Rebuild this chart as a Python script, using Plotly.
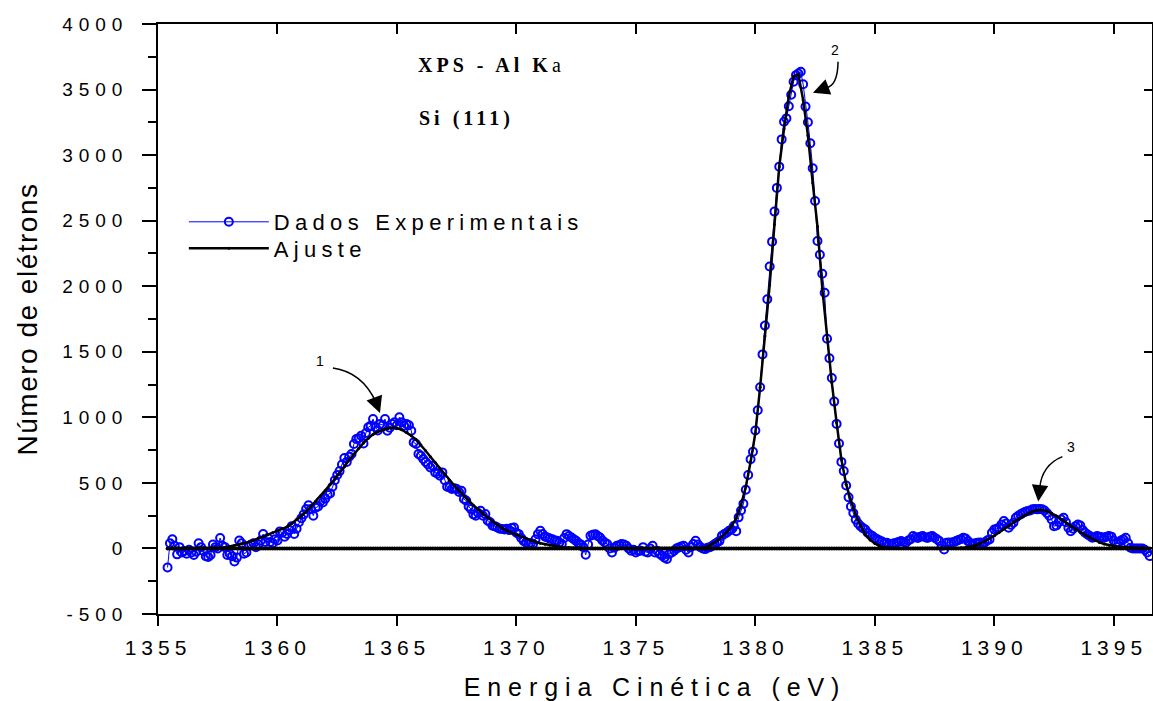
import plotly.graph_objects as go

# ---------------- data ----------------
E_START = 1355.4          # first experimental point (eV)
E_STEP = 0.1              # experimental step (eV)
FIT_STEP = 0.2            # step of the sampled fitted curve (eV)

counts = [
    -145, 40, 70, 20, -45, 10,                                   # 1355.4-1355.9
    -30, -20, -40, -10, -30, -50, -25, 40, 10, -20,              # 1356
    -60, -65, -50, 30, 10, 0, 80, 20, 10, -50,                   # 1357
    -40, -60, -100, -70, 60, 40, -40, -30, 20, 30,               # 1358
    40, 10, 30, 60, 110, 50, 80, 50, 40, 70,                     # 1359
    60, 130, 120, 90, 110, 140, 170, 110, 150, 200,              # 1360
    230, 260, 300, 330, 300, 250, 310, 320, 360, 350,            # 1361
    380, 410, 420, 470, 520, 560, 590, 640, 690, 660,            # 1362
    700, 720, 796, 835, 840, 860, 800, 880, 924, 936,            # 1363
    987, 924, 900, 949, 940, 987, 898, 920, 949, 962,            # 1364
    940, 1000, 962, 936, 949, 940, 898, 809, 796, 720,           # 1365
    707, 682, 660, 640, 618, 631, 580, 570, 555, 580,            # 1366
    520, 470, 466, 453, 460, 453, 430, 440, 377, 364,            # 1367
    320, 300, 260, 249, 270, 288, 250, 262, 211, 200,            # 1368
    173, 170, 160, 150, 148, 145, 150, 140, 155, 160,            # 1369
    120, 109, 80, 58, 45, 33, 40, 35, 70, 109,                   # 1370
    135, 110, 90, 84, 75, 71, 60, 58, 45, 33,                    # 1371
    80, 109, 95, 84, 70, 58, 40, 30, 10, -48,                    # 1372
    30, 97, 105, 109, 95, 84, 60, 45, 33, 0,                     # 1373
    -31, 5, 20, 25, 33, 30, 20, 0, -18, -10,                     # 1374
    -31, -20, -18, 10, -25, -31, 0, 20, -31, -20,                # 1375
    -43, -56, -70, -81, -40, -30, -18, 0, 8, 15,                 # 1376
    20, -10, -31, 10, 33, 58, 30, 10, 0, -5,                     # 1377
    5, 10, 20, 33, 45, 58, 97, 110, 120, 135,                    # 1378
    145, 171, 132, 237, 290, 340, 448, 560, 680, 738,            # 1379
    900, 1054, 1230, 1480, 1700, 1900, 2150, 2340, 2569, 2750,   # 1380
    2912, 3120, 3254, 3280, 3373, 3460, 3560, 3610, 3623, 3636,  # 1381
    3540, 3370, 3250, 3090, 2900, 2650, 2345, 2240, 2095, 1950,  # 1382
    1600, 1450, 1300, 1120, 950, 800, 660, 590, 480, 390,        # 1383
    320, 270, 220, 190, 170, 155, 145, 120, 105, 95,             # 1384
    80, 70, 60, 53, 40, 43, 35, 31, 40, 43,                      # 1385
    50, 56, 50, 43, 60, 70, 94, 85, 80, 90,                      # 1386
    94, 85, 80, 90, 94, 81, 70, 56, 20, -8,                      # 1387
    43, 45, 43, 50, 56, 65, 70, 81, 75, 56,                      # 1388
    40, 31, 40, 43, 45, 43, 45, 60, 69, 120,                     # 1389
    145, 150, 158, 183, 209, 190, 158, 180, 196, 234,            # 1390
    250, 260, 270, 280, 285, 290, 298, 300, 298, 300,            # 1391
    298, 290, 270, 250, 221, 170, 175, 200, 221, 234,            # 1392
    200, 158, 132, 150, 170, 183, 175, 140, 120, 107,            # 1393
    95, 81, 85, 94, 90, 85, 81, 90, 94, 90,                      # 1394
    60, 40, 43, 60, 69, 81, 40, 5, 0, 0,                         # 1395
    0, 0, 0, -10, -30, -58,                                      # 1396.0-1396.5
]

fit = [
    1, 1, 1,                          # 1355.4-1355.8
    1, 2, 2, 3, 3,                    # 1356
    3, 4, 4, 5, 8,                    # 1357
    15, 22, 30, 40, 50,               # 1358
    62, 75, 90, 105, 120,             # 1359
    135, 150, 165, 190, 220,          # 1360
    250, 280, 320, 360, 400,          # 1361
    440, 485, 530, 575, 625,          # 1362
    675, 720, 765, 805, 840,          # 1363
    870, 890, 905, 915, 920,          # 1364
    918, 905, 885, 860, 830,          # 1365
    790, 745, 700, 655, 610,          # 1366
    565, 520, 480, 440, 400,          # 1367
    365, 330, 295, 265, 235,          # 1368
    205, 180, 155, 135, 118,          # 1369
    105, 90, 75, 62, 50,              # 1370
    40, 32, 25, 18, 13,               # 1371
    9, 6, 4, 3, 2,                    # 1372
    2, 1, 1, 1, 1,                    # 1373
    1, 1, 1, 1, 1,                    # 1374
    1, 1, 1, 1, 1,                    # 1375
    1, 1, 2, 2, 2,                    # 1376
    2, 3, 3, 4, 6,                    # 1377
    15, 35, 58, 90, 125,              # 1378
    170, 230, 330, 470, 660,          # 1379
    880, 1230, 1620, 2010, 2470,      # 1380
    2912, 3200, 3450, 3600, 3615,     # 1381
    3420, 3150, 2790, 2455, 1985,     # 1382
    1600, 1265, 960, 680, 490,        # 1383
    362, 258, 175, 108, 65,           # 1384
    38, 18, 8, 4, 3,                  # 1385
    2, 2, 2, 2, 2,                    # 1386
    2, 2, 2, 2, 2,                    # 1387
    2, 2, 3, 5, 8,                    # 1388
    14, 24, 36, 55, 75,               # 1389
    97, 122, 148, 175, 198,           # 1390
    222, 245, 265, 282, 292,          # 1391
    294, 285, 268, 248, 222,          # 1392
    196, 170, 145, 125, 103,          # 1393
    82, 63, 46, 34, 25,               # 1394
    18, 13, 9, 6, 5,                  # 1395
    4, 3, 2,                          # 1396.0-1396.4
]

energy = [round(E_START + E_STEP * i, 1) for i in range(len(counts))]
fit_energy = [round(E_START + FIT_STEP * i, 1) for i in range(len(fit))]
baseline = [0 for _ in energy]

x_ticks = [1355, 1360, 1365, 1370, 1375, 1380, 1385, 1390, 1395]
y_ticks = [-500, 0, 500, 1000, 1500, 2000, 2500, 3000, 3500, 4000]
y_tick_labels = ["-500", "0", "500", "1000", "1500", "2000", "2500", "3000", "3500", "4000"]
X_RANGE = [1355, 1396.6]
Y_RANGE = [-500, 4000]

# peak labels: (label, label x, label y, curve start, curve control, curve end, arrow tip)
peak_labels = [
    ("1", 1361.86, 1430, (1362.32, 1377), (1363.54, 1346), (1364.12, 1117), (1364.29, 1033)),
    ("2", 1383.40, 3800, (1383.46, 3712), (1383.45, 3528), (1382.95, 3513), (1382.41, 3476)),
    ("3", 1393.30, 775, (1392.85, 700), (1391.99, 636), (1391.90, 460), (1391.84, 358)),
]

SANS = "Liberation Sans, Arial, sans-serif"
SERIF = "Liberation Serif, Times New Roman, serif"
BLUE = "#0000FF"

fig = go.Figure()

fig.add_trace(go.Scatter(
    x=energy, y=counts, name="Dados Experimentais", mode="lines+markers",
    line=dict(color=BLUE, width=1),
    marker=dict(symbol="circle-open", size=8, color=BLUE, line=dict(width=2, color=BLUE)),
    legend="legend",
))
fig.add_trace(go.Scatter(
    x=fit_energy, y=fit, name="Ajuste", mode="lines+markers",
    line=dict(color="black", width=2.5),
    marker=dict(symbol="circle", size=3, color="black"),
    legend="legend2",
))
fig.add_trace(go.Scatter(
    x=energy, y=baseline, name="linha de base", mode="lines+markers", showlegend=False,
    line=dict(color="black", width=2.5), marker=dict(symbol="circle", size=4, color="black"),
    xaxis="x2", yaxis="y2",
))

# curved arrows for peak labels
for lab, lx, ly, p0, pc, p1, tip in peak_labels:
    fig.add_shape(type="path", xref="x", yref="y",
                  path=f"M {p0[0]},{p0[1]} Q {pc[0]},{pc[1]} {p1[0]},{p1[1]}",
                  line=dict(color="black", width=1.5))
    fig.add_annotation(x=tip[0], y=tip[1], ax=p1[0], ay=p1[1], axref="x", ayref="y",
                       xref="x", yref="y", text="", showarrow=True,
                       arrowhead=2, arrowsize=2.2, arrowwidth=1.5, arrowcolor="black")
    fig.add_annotation(x=lx, y=ly, xref="x", yref="y", text=lab, showarrow=False,
                       font=dict(family=SANS, size=14, color="black"))

fig.add_annotation(x=1366.72, y=3687, xref="x", yref="y", xanchor="left", yanchor="middle",
                   text="<b>XPS - Al K</b>a", showarrow=False,
                   font=dict(family=SERIF, size=20, color="black"))
fig.add_annotation(x=1366.50, y=3283, xref="x", yref="y", xanchor="left", yanchor="middle",
                   text="<b>Si (111)</b>", showarrow=False,
                   font=dict(family=SERIF, size=20, color="black"))

axis_common = dict(showgrid=False, zeroline=False, showline=True, linecolor="black",
                   linewidth=1.5, tickcolor="black", tickwidth=1.5)

fig.update_layout(
    width=1153, height=701,
    margin=dict(l=158, r=1, t=24, b=87),
    paper_bgcolor="white", plot_bgcolor="white",
    font=dict(family=SANS, color="black"),
    showlegend=True,
    legend=dict(x=0.026, y=0.700, xanchor="left", yanchor="top", bgcolor="rgba(0,0,0,0)",
                font=dict(family=SANS, size=22, color="black"), itemwidth=80),
    legend2=dict(x=0.026, y=0.655, xanchor="left", yanchor="top", bgcolor="rgba(0,0,0,0)",
                 font=dict(family=SANS, size=22, color="black"), itemwidth=80),
    xaxis=dict(range=X_RANGE, tickvals=x_ticks, ticks="outside", ticklen=10,
               tickfont=dict(family=SANS, size=21), ticklabelstandoff=4,
               title=dict(text="Energia Cinética (eV)", font=dict(family=SANS, size=25), standoff=23),
               **axis_common),
    xaxis2=dict(range=X_RANGE, overlaying="x", side="top", anchor="y2", tickvals=x_ticks,
                ticks="inside", ticklen=10, showticklabels=False, **axis_common),
    yaxis=dict(range=Y_RANGE, tickvals=y_ticks, ticktext=y_tick_labels, ticks="outside", ticklen=14,
               minor=dict(dtick=250, tick0=0, ticks="outside", ticklen=8, tickwidth=1.5, tickcolor="black"),
               tickfont=dict(family=SANS, size=19), ticklabelstandoff=10,
               title=dict(text="Número de elétrons", font=dict(family=SANS, size=28), standoff=40),
               **axis_common),
    yaxis2=dict(range=Y_RANGE, overlaying="y", side="right", anchor="x2", tickvals=y_ticks,
                ticks="inside", ticklen=8, showticklabels=False, **axis_common),
)

letter_spacing_js = """
var css = '.xtick text{letter-spacing:5px}' +
          '.ytick text{letter-spacing:6px}' +
          '.g-xtitle text{letter-spacing:6.9px}' +
          '.g-ytitle text{letter-spacing:1.5px}' +
          'text.legendtext, text.legend2text{letter-spacing:5.3px}' +
          '.scrollbox{clip-path:none !important}' +
          '.annotation-text{letter-spacing:4px}';
var st = document.createElement('style');
st.textContent = css;
document.head.appendChild(st);
"""

fig.write_html("out.html", post_script=letter_spacing_js)
